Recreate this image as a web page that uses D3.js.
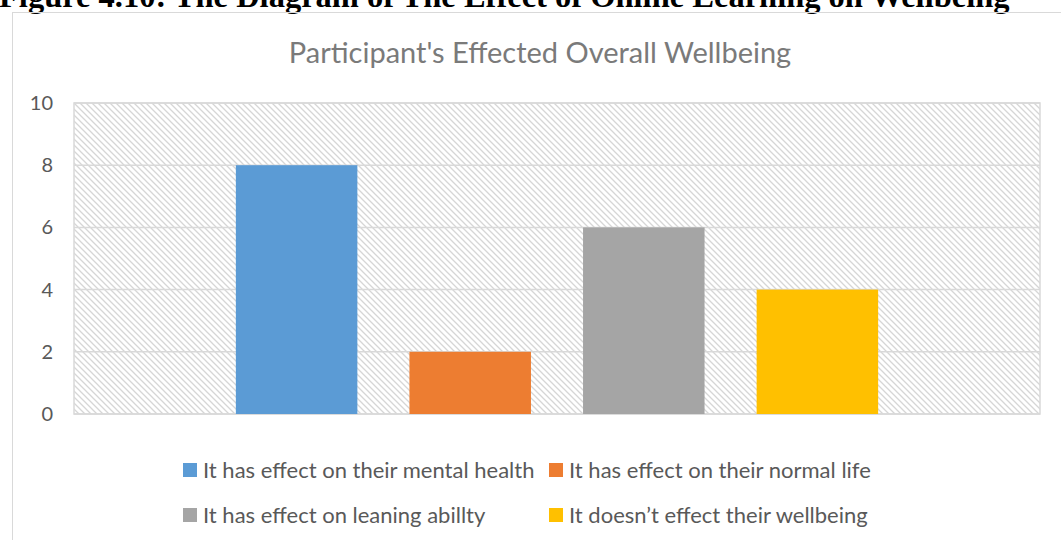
<!DOCTYPE html>
<html>
<head>
<meta charset="utf-8">
<script src="https://cdn.jsdelivr.net/npm/d3@7/dist/d3.min.js"></script>
<style>
  body { margin: 0; background: #fff; }
  svg { display: block; }
</style>
</head>
<body>
<div id="chart"></div>
<script>
// data
var categories = ["Wellbeing"];
var seriesNames = [
    "It has effect on their mental health",
    "It has effect on their normal life",
    "It has effect on leaning abillty",
    "It doesn\u2019t effect their wellbeing"
];
var seriesValues = [8, 2, 6, 4];
var seriesColors = ["#5B9BD5", "#ED7D31", "#A5A5A5", "#FFC000"];
var yTicks = [0, 2, 4, 6, 8, 10];

var W = 1061, H = 540;
var margin = {top: 103, right: 21, bottom: 126, left: 74},
    width = W - margin.left - margin.right,
    height = H - margin.top - margin.bottom;

var svg = d3.select("#chart")
    .append("svg")
    .attr("width", W)
    .attr("height", H);

// hatch pattern for the plot area
var defs = svg.append("defs");
var pat = defs.append("pattern")
    .attr("id", "hatch")
    .attr("patternUnits", "userSpaceOnUse")
    .attr("width", 6)
    .attr("height", 6);
pat.append("rect").attr("width", 6).attr("height", 6).attr("fill", "#fff");
pat.append("path")
    .attr("d", "M-1,-1 L7,7 M-7,-1 L1,7 M5,-1 L13,7")
    .attr("stroke", "#d6d6d6")
    .attr("stroke-width", 1.3);

// figure caption (cut off at top, as in the source page)
svg.append("text")
    .attr("x", -1)
    .attr("y", 7)
    .style("font-family", "'Liberation Serif', 'Times New Roman', serif")
    .style("font-weight", "bold")
    .style("font-size", "32.5px")
    .style("fill", "#000")
    .text("Figure 4.10: The Diagram of The Effect of Online Learning on Wellbeing");

// chart area border
svg.append("rect")
    .attr("x", 12.5)
    .attr("y", 12.5)
    .attr("width", W + 20)
    .attr("height", H + 20)
    .attr("fill", "none")
    .attr("stroke", "#d9d9d9")
    .attr("stroke-width", 1);

// title
svg.append("text")
    .attr("x", 540)
    .attr("y", 63)
    .attr("text-anchor", "middle")
    .style("font-family", "Lato, 'Open Sans', sans-serif")
    .style("font-size", "29px")
    .style("fill", "#7a7a7a")
    .text("Participant's Effected Overall Wellbeing");

var g = svg.append("g")
    .attr("transform", "translate(" + margin.left + "," + margin.top + ")");

var y = d3.scaleLinear()
    .domain([0, 10])
    .range([height, 0]);

var x0 = d3.scaleBand()
    .domain(categories)
    .range([0, width])
    .paddingInner(0)
    .paddingOuter(0.252);

var x1 = d3.scaleBand()
    .domain(seriesNames)
    .range([0, x0.bandwidth()])
    .paddingInner(0.3)
    .paddingOuter(0);

// plot background
g.append("rect")
    .attr("width", width)
    .attr("height", height)
    .attr("fill", "url(#hatch)")
    .attr("stroke", "#d9d9d9")
    .attr("stroke-width", 1.5);

// gridlines
g.append("g")
    .selectAll("line")
    .data(yTicks)
    .enter()
    .append("line")
    .attr("x1", 0)
    .attr("x2", width)
    .attr("y1", function (d) { return y(d); })
    .attr("y2", function (d) { return y(d); })
    .attr("stroke", "#d9d9d9")
    .attr("stroke-width", 1.5);

// y axis labels
var yAxis = g.append("g")
    .call(d3.axisLeft(y).tickValues(yTicks).tickSize(0).tickPadding(21));
yAxis.select(".domain").remove();
yAxis.selectAll("text")
    .style("font-family", "Lato, 'Open Sans', sans-serif")
    .style("font-size", "20px")
    .style("fill", "#595959");

// bars
var data = seriesNames.map(function (s, i) {
    return {cat: categories[0], name: s, value: seriesValues[i], color: seriesColors[i]};
});

g.append("g")
    .selectAll("rect")
    .data(data)
    .enter()
    .append("rect")
    .attr("x", function (d) { return x0(d.cat) + x1(d.name); })
    .attr("y", function (d) { return y(d.value); })
    .attr("width", x1.bandwidth())
    .attr("height", function (d) { return y(0) - y(d.value); })
    .attr("fill", function (d) { return d.color; });

// legend, two rows by two columns
var legendCols = [183, 549], legendRows = [470, 515];
var legend = svg.append("g");
var items = legend.selectAll("g")
    .data(data)
    .enter()
    .append("g")
    .attr("transform", function (d, i) {
        return "translate(" + legendCols[i % 2] + "," + legendRows[Math.floor(i / 2)] + ")";
    });
items.append("rect")
    .attr("x", 0)
    .attr("y", -7)
    .attr("width", 14)
    .attr("height", 14)
    .attr("fill", function (d) { return d.color; });
items.append("text")
    .attr("x", 20)
    .attr("y", 0)
    .attr("dy", "0.35em")
    .style("font-family", "Lato, 'Open Sans', sans-serif")
    .style("font-size", "22px")
    .style("fill", "#595959")
    .text(function (d) { return d.name; });
</script>
</body>
</html>
